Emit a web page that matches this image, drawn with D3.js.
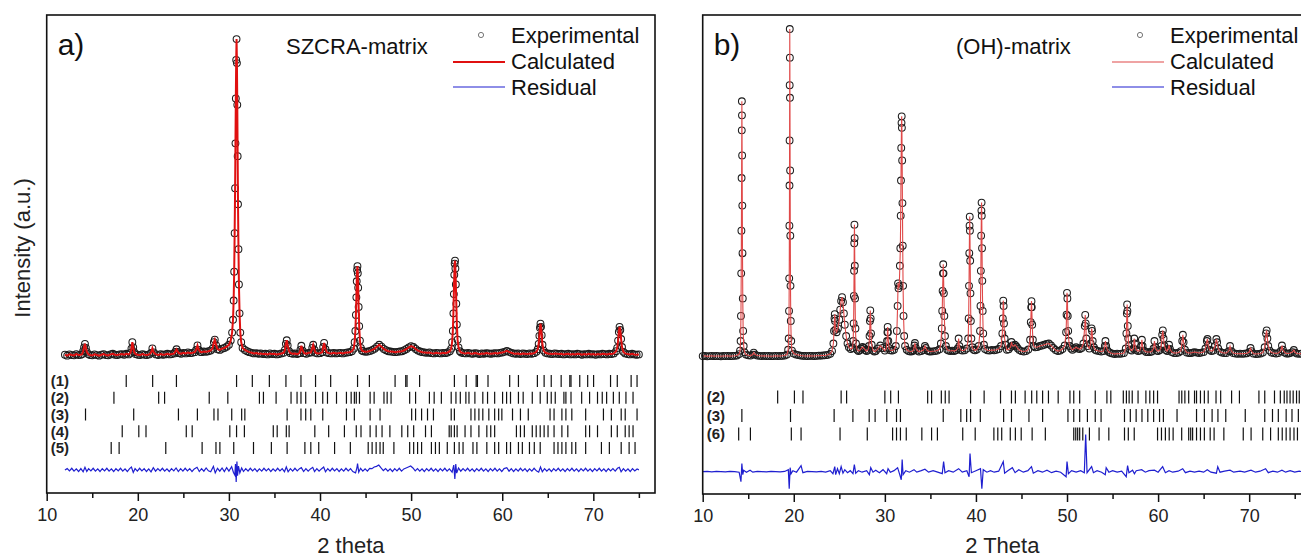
<!DOCTYPE html>
<meta charset="utf-8">
<script src="https://d3js.org/d3.v7.min.js"></script>
<style>
body { margin: 0; background: #fff; }
text { font-family: "Liberation Sans", Arial, sans-serif; }
</style>
<div id="chart"></div>
<script>

// ---------------------------//
//   DATA  panel a (SZCRA)    //
// ---------------------------//

// observed / calculated profile, [2theta, counts]
var profileA = [
[12.00,410],[12.25,380],[12.50,420],[12.75,400],[13.00,390],[13.25,430],[13.50,400],[13.75,410],
[13.90,430],[14.00,520],[14.10,640],[14.20,750],[14.30,620],[14.40,500],[14.55,430],
[14.75,400],[15.00,390],[15.25,420],[15.50,400],[15.75,380],[16.00,410],[16.25,430],[16.50,400],[16.75,390],[17.00,420],[17.25,440],[17.50,410],[17.75,400],[18.00,420],[18.25,430],[18.50,410],[18.75,440],[19.00,420],
[19.20,470],[19.30,600],[19.40,800],[19.50,640],[19.60,490],
[19.75,430],[20.00,410],[20.25,400],[20.50,430],[20.75,410],[21.00,400],[21.25,420],
[21.45,470],[21.60,610],[21.75,480],
[22.00,420],[22.25,400],[22.50,430],[22.75,410],[23.00,420],[23.25,440],[23.50,420],[23.75,430],[24.00,450],
[24.10,500],[24.25,580],[24.40,500],
[24.50,460],[24.75,440],[25.00,470],[25.25,450],[25.50,480],[25.75,460],[26.00,470],[26.25,490],
[26.40,560],[26.55,700],[26.70,560],[26.85,500],
[27.00,490],[27.25,510],[27.50,500],[27.75,520],[28.00,540],
[28.20,600],[28.35,800],[28.45,880],[28.60,700],[28.75,580],
[29.00,560],[29.25,600],[29.50,620],[29.75,660],[30.00,720],[30.20,850],
[30.35,1100],[30.45,1500],[30.52,2100],[30.58,3000],[30.63,4200],[30.68,5600],[30.72,7000],[30.76,8400],[30.80,9600],[30.84,10250],[30.88,9500],[30.92,8200],[30.96,6600],[31.00,5100],[31.05,3700],[31.10,2600],[31.17,1700],[31.25,1100],[31.35,800],[31.50,620],
[31.75,560],[32.00,520],[32.25,490],[32.50,470],[32.75,450],[33.00,460],[33.25,440],[33.50,450],[33.75,430],[34.00,440],[34.25,420],[34.50,450],[34.75,430],[35.00,440],[35.25,420],[35.50,430],[35.75,450],[36.00,470],
[36.15,560],[36.25,750],[36.35,860],[36.45,700],[36.60,520],
[36.75,460],[37.00,440],[37.25,450],[37.50,430],[37.75,460],
[37.85,560],[37.95,690],[38.10,540],
[38.25,460],[38.50,440],[38.75,470],[39.00,480],
[39.15,620],[39.25,720],[39.40,560],
[39.50,470],[39.75,450],[40.00,460],[40.25,490],
[40.35,650],[40.45,780],[40.60,580],
[40.75,480],[41.00,460],[41.25,450],[41.50,470],[41.75,450],[42.00,460],[42.25,470],[42.50,450],[42.75,470],[43.00,480],[43.25,490],[43.50,520],
[43.70,600],[43.80,800],[43.88,1150],[43.94,1650],[43.99,2200],[44.03,2700],[44.07,3050],[44.11,3170],[44.15,2950],[44.19,2500],[44.24,1900],[44.30,1300],[44.38,850],[44.48,620],[44.60,540],
[44.75,520],[45.00,500],[45.25,510],[45.50,530],[45.75,560],[46.00,600],[46.25,660],[46.50,720],[46.75,660],[47.00,590],[47.25,550],[47.50,520],[47.75,510],[48.00,500],[48.25,490],[48.50,500],[48.75,510],[49.00,520],[49.25,550],[49.50,590],[49.75,640],[50.00,680],[50.25,650],[50.50,590],[50.75,540],[51.00,510],[51.25,490],[51.50,480],[51.75,470],[52.00,480],[52.25,460],[52.50,450],[52.75,470],[53.00,460],[53.25,450],[53.50,470],[53.75,460],[54.00,480],[54.25,520],
[54.40,600],[54.50,800],[54.58,1150],[54.64,1700],[54.69,2300],[54.74,2900],[54.78,3250],[54.82,3340],[54.86,3100],[54.91,2600],[54.96,2000],[55.02,1350],[55.10,880],[55.20,640],[55.35,520],
[55.50,480],[55.75,460],[56.00,450],[56.25,470],[56.50,450],[56.75,440],[57.00,460],[57.25,450],[57.50,430],[57.75,450],[58.00,440],[58.25,460],[58.50,450],[58.75,440],[59.00,450],[59.25,460],[59.50,450],[59.75,470],[60.00,480],[60.25,500],[60.50,530],[60.75,500],[61.00,470],[61.25,450],[61.50,440],[61.75,450],[62.00,430],[62.25,450],[62.50,440],[62.75,430],[63.00,450],[63.25,440],[63.50,460],[63.75,500],
[63.90,580],[64.00,750],[64.08,1000],[64.14,1250],[64.20,1380],[64.26,1280],[64.33,1020],[64.42,720],[64.55,540],
[64.75,470],[65.00,450],[65.25,440],[65.50,430],[65.75,450],[66.00,440],[66.25,430],[66.50,440],[66.75,420],[67.00,430],[67.25,440],[67.50,420],[67.75,430],[68.00,420],[68.25,440],[68.50,430],[68.75,410],[69.00,430],[69.25,420],[69.50,440],[69.75,420],[70.00,430],[70.25,410],[70.50,430],[70.75,420],[71.00,440],[71.25,430],[71.50,420],[71.75,440],[72.00,430],[72.25,450],[72.50,520],
[72.62,620],[72.72,850],[72.80,1120],[72.88,1280],[72.96,1180],[73.05,900],[73.15,650],[73.30,500],
[73.50,450],[73.75,430],[74.00,420],[74.25,440],[74.50,420],[74.75,410],[75.00,420]
];

// difference curve (obs - calc), counts
var residA = [
[12.0,0],[12.25,40],[12.5,-30],[12.75,50],[13.0,-40],[13.25,30],[13.5,-50],[13.75,40],[14.0,-60],[14.2,80],[14.4,-50],[14.6,40],[14.85,-30],[15.1,50],[15.35,-40],[15.6,30],[15.85,-50],[16.1,40],[16.35,-30],[16.6,50],[16.85,-40],[17.1,30],[17.35,-50],[17.6,40],[17.85,-30],[18.1,50],[18.35,-40],[18.6,30],[18.85,-50],[19.1,40],[19.3,90],[19.5,-80],[19.7,40],[19.95,-40],[20.2,50],[20.45,-30],[20.7,40],[20.95,-50],[21.2,30],[21.45,-60],[21.7,70],[21.95,-40],[22.2,40],[22.45,-30],[22.7,50],[22.95,-40],[23.2,30],[23.45,-50],[23.7,40],[23.95,-30],[24.2,60],[24.45,-50],[24.7,40],[24.95,-40],[25.2,50],[25.45,-30],[25.7,40],[25.95,-50],[26.2,30],[26.5,80],[26.75,-50],[27.0,40],[27.25,-40],[27.5,60],[27.75,-30],[28.0,-60],[28.3,110],[28.5,-90],[28.75,50],[29.0,-40],[29.25,60],[29.5,-50],[29.75,70],[30.0,-40],[30.3,100],[30.5,-80],[30.65,-160],[30.72,180],[30.8,-380],[30.88,260],[30.95,-180],[31.05,120],[31.2,-90],[31.4,60],[31.6,-50],[31.85,40],[32.1,-40],[32.35,50],[32.6,-30],[32.85,40],[33.1,-50],[33.35,30],[33.6,-40],[33.85,50],[34.1,-30],[34.35,40],[34.6,-50],[34.85,30],[35.1,-40],[35.35,50],[35.6,-30],[35.85,40],[36.1,-60],[36.3,90],[36.5,-60],[36.75,40],[37.0,-40],[37.25,50],[37.5,-30],[37.75,40],[37.95,70],[38.2,-50],[38.45,40],[38.7,-40],[38.95,30],[39.2,80],[39.4,-50],[39.65,40],[39.9,-40],[40.15,30],[40.4,90],[40.6,-60],[40.85,40],[41.1,-40],[41.35,50],[41.6,-30],[41.85,40],[42.1,-50],[42.35,30],[42.6,-40],[42.85,50],[43.1,-30],[43.35,40],[43.6,-50],[43.9,-90],[44.05,60],[44.12,200],[44.25,-70],[44.45,50],[44.7,-40],[44.95,30],[45.2,-40],[45.45,50],[45.7,40],[45.95,90],[46.2,110],[46.45,150],[46.7,60],[46.95,-20],[47.2,40],[47.45,-40],[47.7,30],[47.95,-50],[48.2,40],[48.45,-30],[48.7,50],[48.95,-40],[49.2,30],[49.45,60],[49.7,90],[49.95,120],[50.2,60],[50.45,-30],[50.7,40],[50.95,-40],[51.2,30],[51.45,-50],[51.7,40],[51.95,-30],[52.2,50],[52.45,-40],[52.7,30],[52.95,-50],[53.2,40],[53.45,-30],[53.7,50],[53.95,-40],[54.2,30],[54.5,-70],[54.68,150],[54.8,-280],[54.9,180],[55.0,-100],[55.2,60],[55.45,-40],[55.7,40],[55.95,-30],[56.2,50],[56.45,-40],[56.7,30],[56.95,-50],[57.2,40],[57.45,-30],[57.7,50],[57.95,-40],[58.2,30],[58.45,-50],[58.7,40],[58.95,-30],[59.2,50],[59.45,-40],[59.7,30],[59.95,-50],[60.2,40],[60.5,70],[60.75,-40],[61.0,40],[61.25,-50],[61.5,30],[61.75,-40],[62.0,50],[62.25,-30],[62.5,40],[62.75,-50],[63.0,30],[63.25,-40],[63.5,50],[63.75,-30],[64.0,-70],[64.2,90],[64.4,-60],[64.65,40],[64.9,-40],[65.15,30],[65.4,-50],[65.65,40],[65.9,-30],[66.15,50],[66.4,-40],[66.65,30],[66.9,-50],[67.15,40],[67.4,-30],[67.65,50],[67.9,-40],[68.15,30],[68.4,-50],[68.65,40],[68.9,-30],[69.15,50],[69.4,-40],[69.65,30],[69.9,-50],[70.15,40],[70.4,-30],[70.65,50],[70.9,-40],[71.15,30],[71.4,-50],[71.65,40],[71.9,-30],[72.15,40],[72.4,-40],[72.65,50],[72.85,80],[73.05,-60],[73.3,40],[73.55,-40],[73.8,30],[74.05,-50],[74.3,40],[74.55,-30],[74.8,30],[75.0,0]
];

// Bragg reflection positions per phase (2theta)
var phaseLabelsA = ["(1)", "(2)", "(3)", "(4)", "(5)"];
var refl1A = [18.73,21.63,24.24,30.84,32.57,34.44,36.26,37.91,39.51,41.17,44.12,45.42,48.24,49.41,49.55,50.93,54.75,56.05,57.14,57.28,58.44,60.82,61.78,63.86,64.6,65.38,66.47,67.42,67.55,68.51,69.38,70.03,71.89,72.63,74.15,74.8];
var refl2A = [17.38,22.29,22.94,27.84,29.88,33.35,33.79,35.18,36.82,37.48,37.91,38.43,39.51,40.30,40.82,41.81,42.9,43.42,43.77,43.98,44.33,45.5,45.94,47.02,47.37,47.80,49.84,50.49,52.01,52.53,53.32,54.4,54.92,55.4,56.01,56.35,57.0,57.87,58.39,59.17,60.04,60.48,60.91,61.78,62.3,63.3,64.17,64.95,65.38,65.82,66.77,66.99,67.55,68.72,69.59,70.46,70.98,71.46,72.2,72.85,73.58,74.36];
var refl3A = [14.26,19.55,24.46,26.54,28.36,28.8,30.31,31.4,31.75,36.39,37.91,38.43,38.99,40.3,42.9,43.77,45.5,46.59,50.06,50.49,51.15,51.8,52.45,54.4,54.75,56.57,57.0,57.44,57.87,58.53,59.17,59.61,59.96,61.13,62.0,62.86,65.25,65.69,66.55,66.99,67.64,69.16,71.11,71.98,73.06,73.5,74.8];
var refl4A = [18.29,20.11,20.9,25.32,25.97,30.1,30.84,31.7,34.87,35.3,36.3,36.61,39.43,40.95,42.68,43.98,44.5,45.5,46.16,46.81,47.67,48.98,49.63,50.28,51.58,52.23,54.18,54.4,54.75,55.05,55.92,56.57,57.44,58.31,58.74,59.17,61.56,62.0,62.43,63.3,63.73,64.17,64.6,65.03,65.69,66.55,67.2,69.16,69.59,70.46,71.98,72.63,73.5,73.93,74.36];
var refl5A = [17.08,17.95,23.07,27.06,28.58,29.01,30.53,32.7,34.66,36.39,38.34,38.99,39.86,41.6,43.33,45.29,45.72,46.16,46.59,46.94,48.11,49.84,50.28,50.71,51.15,52.23,52.67,53.1,53.97,54.75,55.27,55.7,56.79,57.22,58.31,59.17,59.61,60.48,60.91,61.78,62.21,62.99,63.52,64.17,65.69,66.12,66.55,66.99,67.64,68.07,69.16,70.89,71.76,73.06,73.93,74.58];

// ---------------------------//
//   DATA  panel b ((OH))     //
// ---------------------------//

var profileB = [
[10.00,200],[10.25,210],[10.50,190],[10.75,200],[11.00,210],[11.25,195],[11.50,205],[11.75,200],[12.00,190],[12.25,205],[12.50,200],[12.75,210],[13.00,195],[13.25,205],[13.50,210],[13.75,220],[14.00,280],
[14.10,420],[14.16,800],[14.20,1800],[14.23,3500],[14.25,5200],[14.27,7300],[14.29,9200],[14.30,10360],[14.31,9800],[14.33,8200],[14.35,6200],[14.37,4300],[14.40,2500],[14.44,1200],[14.50,600],[14.60,350],
[14.75,260],[15.00,230],[15.25,220],[15.50,260],[15.60,340],[15.75,260],[16.00,220],[16.25,210],[16.50,200],[16.75,210],[17.00,200],[17.25,205],[17.50,195],[17.75,200],[18.00,210],[18.25,200],[18.50,205],[18.75,210],[19.00,220],[19.25,260],
[19.38,450],[19.44,900],[19.48,2000],[19.50,3300],[19.52,5400],[19.53,7000],[19.54,8800],[19.55,11000],[19.56,13240],[19.57,12100],[19.58,10500],[19.60,7600],[19.62,5000],[19.64,3000],[19.67,1600],[19.72,800],[19.80,420],
[20.00,300],[20.25,260],[20.50,240],[20.75,220],[21.00,210],[21.25,205],[21.50,200],[21.75,210],[22.00,205],[22.25,200],[22.50,210],[22.75,215],[23.00,220],[23.25,225],[23.50,235],[23.75,250],[24.00,290],[24.20,400],
[24.35,700],[24.42,1200],[24.47,1700],[24.50,1870],[24.53,1600],[24.58,1250],
[24.70,1150],[24.85,1300],[25.00,1650],[25.10,2050],[25.20,2400],[25.30,2550],[25.40,2350],[25.50,1900],[25.60,1450],[25.75,1000],[25.90,700],[26.05,550],[26.25,480],[26.45,520],
[26.52,800],[26.57,1500],[26.60,2600],[26.62,3600],[26.64,4700],[26.66,5440],[26.68,4900],[26.70,3800],[26.73,2500],[26.77,1300],[26.83,700],
[26.95,450],[27.10,400],[27.25,430],[27.40,500],[27.55,560],[27.70,520],[27.85,440],[28.00,400],[28.15,450],[28.25,600],
[28.32,1000],[28.36,1600],[28.40,2020],[28.44,1700],[28.48,1100],[28.55,650],
[28.70,420],[28.85,380],[29.00,400],[29.25,500],[29.50,620],[29.75,520],[30.00,420],[30.15,500],
[30.24,800],[30.28,1150],[30.31,1360],[30.34,1150],[30.38,800],[30.45,520],
[30.60,430],[30.80,420],[31.00,450],[31.20,600],[31.32,1200],
[31.40,2200],[31.45,3100],[31.50,2900],[31.58,3000],[31.65,3800],
[31.70,4500],[31.74,5800],[31.77,7200],[31.80,8500],[31.83,9500],[31.85,9760],[31.87,9300],[31.90,8000],[31.93,6300],[31.96,4600],[32.00,3000],[32.05,1800],[32.12,1000],[32.22,600],
[32.40,450],[32.60,400],[32.80,380],[33.00,390],[33.15,430],[33.25,620],[33.30,720],[33.40,520],[33.55,420],[33.75,380],[34.00,400],[34.25,440],[34.40,600],[34.50,520],[34.65,420],[34.85,390],[35.00,380],[35.25,390],[35.50,400],[35.75,420],[36.00,470],[36.15,700],
[36.25,1300],[36.30,2000],[36.34,2800],[36.38,3500],[36.41,3860],[36.44,3500],[36.48,2700],[36.53,1800],[36.60,1000],[36.70,600],
[36.85,450],[37.00,420],[37.20,400],[37.40,420],[37.60,400],[37.80,430],[38.00,500],[38.10,900],[38.18,600],[38.30,450],[38.50,420],[38.75,430],[39.00,500],[39.15,900],
[39.20,1700],[39.24,3000],[39.27,4300],[39.30,5400],[39.32,5760],[39.34,5200],[39.37,4000],[39.40,2700],[39.44,1600],[39.50,900],[39.60,550],
[39.75,450],[39.90,430],[40.10,460],[40.30,600],[40.45,1200],
[40.50,2200],[40.54,3600],[40.57,5000],[40.60,6000],[40.62,6320],[40.64,5800],[40.67,4500],[40.70,3200],[40.74,2000],[40.80,1100],[40.88,650],
[41.00,480],[41.25,430],[41.50,420],[41.75,440],[42.00,430],[42.25,450],[42.50,480],[42.75,600],[42.90,1100],
[42.95,1700],[43.00,2410],[43.04,2200],[43.08,1500],[43.15,900],[43.25,650],
[43.40,450],[43.60,470],[43.80,560],[43.90,760],[44.00,620],[44.15,600],[44.30,650],[44.45,580],[44.60,500],[44.80,430],[45.00,400],[45.25,380],[45.50,400],[45.75,460],[45.95,850],
[46.02,1550],[46.07,2150],[46.10,2390],[46.13,2150],[46.18,1450],[46.25,850],[46.35,600],
[46.50,550],[46.75,560],[47.00,600],[47.25,620],[47.50,650],[47.75,680],[48.00,700],[48.25,620],[48.50,520],[48.75,440],[49.00,400],[49.25,420],[49.50,480],[49.75,620],[49.90,1150],
[49.95,1850],[50.00,2720],[50.04,2500],[50.08,1800],[50.13,1200],[50.20,800],
[50.30,600],[50.45,500],[50.60,450],[50.80,500],[51.00,550],[51.20,500],[51.40,480],[51.60,520],[51.80,700],[51.95,1400],[52.00,1840],[52.05,1500],[52.12,900],[52.25,600],[52.45,500],[52.60,700],[52.70,1300],[52.75,1200],[52.82,800],[52.95,550],[53.10,450],[53.25,420],[53.50,400],[53.75,380],[54.00,400],[54.15,600],[54.22,800],[54.30,600],[54.45,420],[54.60,360],[54.80,320],[55.00,300],[55.25,280],[55.50,300],[55.75,290],[56.00,300],[56.25,320],[56.45,500],
[56.52,1100],[56.57,1900],[56.60,2260],[56.63,2000],[56.67,1400],[56.72,900],[56.80,600],
[56.95,450],[57.10,420],[57.30,500],[57.38,900],[57.45,700],[57.60,450],[57.80,400],[58.00,420],[58.15,600],[58.22,850],[58.30,600],[58.45,420],[58.70,360],[58.90,360],[59.10,360],[59.30,380],[59.50,500],[59.60,800],[59.70,550],[59.85,420],[60.00,400],[60.20,440],[60.35,600],[60.45,1050],[60.52,1220],[60.60,900],[60.70,600],[60.85,440],[61.00,400],[61.10,480],[61.20,650],[61.30,480],[61.50,360],[61.75,320],[62.00,320],[62.25,340],[62.50,400],[62.65,800],[62.72,1050],[62.80,750],[62.95,450],[63.15,340],[63.40,320],[63.60,320],[63.80,340],[64.00,360],[64.25,340],[64.50,320],[64.75,340],[65.00,360],[65.20,500],[65.35,800],[65.42,880],[65.50,650],[65.65,450],[65.85,400],[66.05,420],[66.25,600],[66.40,880],[66.48,750],[66.60,500],[66.80,380],[67.00,340],[67.25,320],[67.50,320],[67.75,400],[67.90,600],[68.05,400],[68.25,320],[68.50,300],[68.75,290],[69.00,300],[69.25,290],[69.50,300],[69.75,310],[70.00,360],[70.15,520],[70.25,400],[70.45,300],[70.75,280],[71.00,290],[71.25,300],[71.50,340],[71.70,550],[71.85,1100],[71.92,1220],[72.00,900],[72.10,600],[72.25,420],[72.45,340],[72.70,320],[72.95,300],[73.20,320],[73.45,400],[73.60,620],[73.70,450],[73.90,340],[74.10,300],[74.30,300],[74.50,320],[74.75,360],[74.90,440],[75.05,340],[75.25,300],[75.50,290],[75.75,300]
];

var residB = [
[10.0,0],[10.5,10],[11.0,-10],[11.5,10],[12.0,0],[12.5,-10],[13.0,10],[13.5,0],[14.0,-20],[14.2,-400],[14.3,320],[14.4,-120],[14.5,60],[14.8,-20],[15.2,60],[15.5,-20],[16.0,10],[16.5,0],[17.0,-10],[17.5,10],[18.0,0],[18.5,-10],[19.0,10],[19.4,80],[19.5,-680],[19.6,160],[19.7,-80],[19.9,40],[20.3,-20],[20.8,240],[21.0,-40],[21.5,10],[22.0,0],[22.5,-10],[23.0,10],[23.5,-20],[24.0,40],[24.3,-80],[24.5,200],[24.6,-120],[24.8,120],[25.0,-80],[25.2,200],[25.4,-60],[25.6,80],[25.9,-40],[26.2,40],[26.5,-80],[26.65,280],[26.8,-60],[27.1,40],[27.5,-20],[28.0,40],[28.3,-120],[28.45,160],[28.7,-20],[29.0,60],[29.4,-40],[29.8,80],[30.2,-80],[30.35,120],[30.6,-20],[31.0,40],[31.4,160],[31.6,-80],[31.8,-320],[31.9,480],[32.0,-120],[32.3,40],[32.7,-20],[33.2,80],[33.5,-20],[34.0,40],[34.4,100],[34.8,-20],[35.3,40],[35.8,-20],[36.3,-80],[36.45,400],[36.6,-40],[37.0,40],[37.5,-20],[38.1,120],[38.5,-20],[39.0,40],[39.25,-200],[39.35,720],[39.5,-40],[40.0,40],[40.5,120],[40.65,-680],[40.8,80],[41.2,-20],[41.6,40],[42.0,-20],[42.5,20],[43.0,400],[43.15,-60],[43.5,40],[44.0,160],[44.3,-40],[44.7,80],[45.2,-20],[45.7,40],[46.1,200],[46.3,-60],[46.8,40],[47.3,-20],[47.8,60],[48.3,-40],[48.8,20],[49.3,-20],[49.9,-200],[50.0,400],[50.15,-80],[50.5,40],[51.0,-20],[51.5,40],[51.9,-40],[52.05,1480],[52.2,-40],[52.7,200],[52.9,-40],[53.3,40],[53.8,-20],[54.2,-120],[54.3,160],[54.6,-20],[55.0,40],[55.5,-20],[56.0,20],[56.5,-200],[56.65,240],[56.8,-40],[57.2,60],[57.4,-80],[57.6,40],[58.2,80],[58.6,-20],[59.0,40],[59.6,60],[60.0,-20],[60.5,200],[60.8,-40],[61.2,40],[61.6,-20],[62.2,20],[62.7,120],[63.0,-40],[63.5,20],[64.0,-20],[64.5,20],[65.0,-20],[65.4,80],[65.8,-20],[66.4,-60],[66.55,200],[66.8,-20],[67.3,20],[67.9,60],[68.3,-20],[69.0,20],[69.5,-20],[70.2,60],[70.7,-20],[71.2,20],[71.8,120],[72.1,-40],[72.6,20],[73.1,-20],[73.6,60],[74.0,-20],[74.5,40],[75.0,-20],[75.5,20],[75.8,0]
];

var phaseLabelsB = ["(2)", "(3)", "(6)"];
var refl2B = [18.23,20.07,21.01,25.2,25.8,30.0,30.64,31.49,34.7,35.13,36.2,36.63,37.05,39.41,40.9,42.7,43.9,44.33,45.4,46.12,46.68,47.32,47.96,49.03,50.32,50.74,51.39,53.1,54.38,54.81,56.18,56.52,56.82,57.16,57.8,58.66,59.09,59.51,59.94,62.3,62.6,62.94,63.36,64.0,64.22,64.65,65.08,65.5,66.36,66.87,68.07,68.93,71.07,71.71,72.78,73.42,73.85,74.15,74.49,74.83,75.2,75.5];
var refl3B = [14.3,19.64,24.43,26.49,28.28,28.93,30.21,31.28,31.71,36.41,38.34,38.98,39.41,40.48,43.04,43.9,45.82,47.32,50.1,50.74,51.39,52.24,53.1,53.74,56.31,56.95,57.59,58.23,58.87,59.51,60.16,60.58,62.08,64.22,65.08,65.93,66.57,67.43,69.57,71.71,72.56,73.2,74.06,74.7,75.4];
var refl6B = [13.95,15.24,19.73,20.8,25.08,28.07,30.85,31.28,31.71,32.35,34.06,35.13,35.77,38.55,39.92,41.97,42.4,42.83,43.77,44.33,44.97,46.17,47.62,50.74,50.96,51.17,51.39,51.73,52.46,53.52,54.59,56.31,56.73,57.38,59.94,60.37,60.8,61.22,61.65,62.59,63.36,63.58,63.79,64.22,64.65,65.08,65.72,66.15,67.22,69.35,70.21,71.49,72.35,73.2,73.63,74.06,74.49,74.92,75.3];

// axis ticks
var majorTicks = [10, 20, 30, 40, 50, 60, 70];
var minorTicks = [15, 25, 35, 45, 55, 65, 75];

// ---------------------------//
//        DRAWING             //
// ---------------------------//

var svg = d3.select("#chart")
  .append("svg")
    .attr("width", 1301)
    .attr("height", 558);

function drawPanel(p) {
  var x = d3.scaleLinear().domain(p.xDomain).range([p.left, p.right]);
  var y = d3.scaleLinear().domain(p.yDomain).range([p.bottom, p.top]);
  var g = svg.append("g");

  // experimental points
  g.append("g")
    .selectAll("circle")
    .data(p.profile)
    .join("circle")
      .attr("cx", function(d) { return x(d[0]); })
      .attr("cy", function(d) { return y(d[1]); })
      .attr("r", 3.4)
      .attr("fill", "none")
      .attr("stroke", "#1c1c1c")
      .attr("stroke-width", 1.05);

  // calculated
  var line = d3.line().x(function(d) { return x(d[0]); }).y(function(d) { return y(d[1]); });
  g.append("path")
    .datum(p.profile)
    .attr("d", line)
    .attr("fill", "none")
    .attr("stroke", p.calcColor)
    .attr("stroke-width", p.calcWidth);

  // residual, shifted down
  var rline = d3.line().x(function(d) { return x(d[0]); }).y(function(d) { return y(d[1] + p.residOffset); });
  g.append("path")
    .datum(p.resid)
    .attr("d", rline)
    .attr("fill", "none")
    .attr("stroke", "#1f1fd0")
    .attr("stroke-width", 1.2);

  // reflection markers
  var rowY = d3.scalePoint().domain(p.phaseLabels).range(p.rowRange);
  p.phaseLabels.forEach(function(lab, i) {
    var cy = rowY(lab);
    g.append("g")
      .selectAll("line")
      .data(p.refl[i])
      .join("line")
        .attr("x1", function(d) { return x(d); })
        .attr("x2", function(d) { return x(d); })
        .attr("y1", cy - p.tickHalf)
        .attr("y2", cy + p.tickHalf)
        .attr("stroke", "#111")
        .attr("stroke-width", 1.2);
    g.append("text")
      .attr("x", p.left + 4)
      .attr("y", cy)
      .attr("dy", "0.36em")
      .style("font-size", "15px")
      .style("font-weight", "bold")
      .attr("fill", "#222")
      .text(lab);
  });

  // frame
  g.append("rect")
    .attr("x", p.left)
    .attr("y", p.top)
    .attr("width", p.right - p.left)
    .attr("height", p.bottom - p.top)
    .attr("fill", "none")
    .attr("stroke", "#111")
    .attr("stroke-width", 1.6);

  // bottom axis
  var ax = g.append("g")
    .attr("transform", "translate(0," + p.bottom + ")")
    .call(d3.axisBottom(x).tickValues(majorTicks).tickSize(8).tickPadding(7).tickFormat(d3.format("d")));
  ax.select(".domain").remove();
  ax.selectAll(".tick line").attr("stroke", "#111").attr("stroke-width", 1.5);
  ax.selectAll(".tick text").style("font-size", "18px").style("font-family", "Liberation Sans, Arial, sans-serif").attr("fill", "#222");

  var axm = g.append("g")
    .attr("transform", "translate(0," + p.bottom + ")")
    .call(d3.axisBottom(x).tickValues(minorTicks).tickSize(5).tickFormat(""));
  axm.select(".domain").remove();
  axm.selectAll(".tick line").attr("stroke", "#111").attr("stroke-width", 1.5);

  // axis title
  g.append("text")
    .attr("x", (p.left + p.right) / 2)
    .attr("y", 553)
    .attr("text-anchor", "middle")
    .style("font-size", "22px")
    .attr("fill", "#222")
    .text(p.xTitle);

  // panel letter and sample name
  g.append("text")
    .attr("x", p.left + 11)
    .attr("y", 55)
    .style("font-size", "30px")
    .attr("fill", "#111")
    .text(p.letter);
  g.append("text")
    .attr("x", p.nameX)
    .attr("y", 54)
    .style("font-size", "22px")
    .attr("fill", "#111")
    .text(p.name);

  // legend
  var lx = p.legendX;
  g.append("circle")
    .attr("cx", lx + 28).attr("cy", 35).attr("r", 2.6)
    .attr("fill", "none").attr("stroke", "#666").attr("stroke-width", 0.9);
  g.append("line")
    .attr("x1", lx).attr("x2", lx + 52).attr("y1", 62).attr("y2", 62)
    .attr("stroke", p.calcColor).attr("stroke-width", p.calcWidth);
  g.append("line")
    .attr("x1", lx).attr("x2", lx + 52).attr("y1", 87).attr("y2", 87)
    .attr("stroke", "#1f1fd0").attr("stroke-width", 1.2);
  [["Experimental", 43], ["Calculated", 69], ["Residual", 95]].forEach(function(t) {
    g.append("text")
      .attr("x", lx + 58)
      .attr("y", t[1])
      .style("font-size", "22px")
      .attr("fill", "#111")
      .text(t[0]);
  });
}

drawPanel({
  left: 46.7, right: 655, top: 15, bottom: 493,
  xDomain: [10, 76.77], yDomain: [-3900, 11000],
  profile: profileA, resid: residA, residOffset: -3180,
  phaseLabels: phaseLabelsA, refl: [refl1A, refl2A, refl3A, refl4A, refl5A],
  rowRange: [381, 448], tickHalf: 6,
  calcColor: "#e01010", calcWidth: 2,
  xTitle: "2 theta", letter: "a)", name: "SZCRA-matrix", nameX: 286, legendX: 453
});

drawPanel({
  left: 702.7, right: 1302, top: 15, bottom: 494,
  xDomain: [10, 75.8], yDomain: [-5300, 13800],
  profile: profileB, resid: residB, residOffset: -4410,
  phaseLabels: phaseLabelsB, refl: [refl2B, refl3B, refl6B],
  rowRange: [397, 434], tickHalf: 6.5,
  calcColor: "#e04848", calcWidth: 1.1,
  xTitle: "2 Theta", letter: "b)", name: "(OH)-matrix", nameX: 956, legendX: 1112
});

// y axis title (shared)
svg.append("text")
  .attr("transform", "translate(30,248) rotate(-90)")
  .attr("text-anchor", "middle")
  .style("font-size", "22px")
  .attr("fill", "#222")
  .text("Intensity (a.u.)");

</script>
